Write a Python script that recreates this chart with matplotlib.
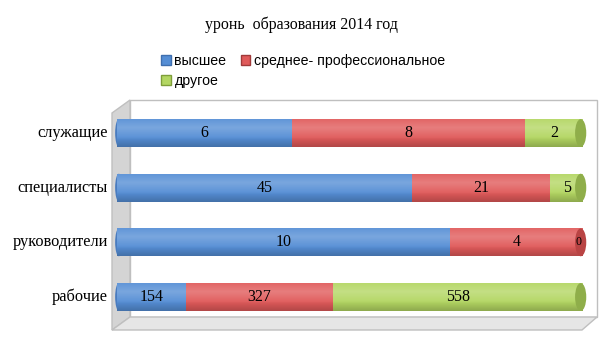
import numpy as np
import matplotlib.pyplot as plt
from matplotlib.patches import Polygon, Ellipse, Patch

categories = ["рабочие", "руководители", "специалисты", "служащие"]
series = ["высшее", "среднее- профессиональное", "другое"]
higher = [154, 10, 45, 6]
secondary = [327, 4, 21, 8]
other = [558, 0, 5, 2]
colors = ["#558ED5", "#E05A5A", "#B3D662"]
cap_colors = ["#3F6FAE", "#B94444", "#8FAE4A"]

W, H = 605, 340
fig = plt.figure(figsize=(W / 100, H / 100), dpi=100)

# pixel overlay for the 3D box
bg = fig.add_axes([0, 0, 1, 1], zorder=0)
bg.set_xlim(0, W)
bg.set_ylim(H, 0)
bg.axis("off")
edge = "#BFBFBF"
bg.add_patch(Polygon([(130, 100), (597, 100), (597, 317), (130, 317)],
                     closed=True, facecolor="white", edgecolor=edge, lw=1))
bg.add_patch(Polygon([(112, 113), (130, 100), (130, 317), (112, 330)],
                     closed=True, facecolor="#D4D4D4", edgecolor=edge, lw=1))
bg.add_patch(Polygon([(112, 330), (130, 317), (597, 317), (582, 330)],
                     closed=True, facecolor="#E6E6E6", edgecolor=edge, lw=1))

ax = fig.add_axes([117 / W, 10 / H, 466 / W, 230 / H], zorder=1)
ax.patch.set_alpha(0)
ax.set_xlim(0, 1)
ax.set_ylim(-0.604, 3.604)
ax.axis("off")

data = np.array([higher, secondary, other], dtype=float)
totals = data.sum(axis=0)
frac = data / totals
y = np.arange(len(categories))
h = 0.51

left = np.zeros(len(categories))
for i, name in enumerate(series):
    ax.barh(y, frac[i], left=left, height=h, color=colors[i], edgecolor="none", zorder=2)
    for j in range(len(categories)):
        cx = left[j] + frac[i][j] / 2
        if data[i][j] > 0:
            ax.text(cx, y[j], f"{int(data[i][j])}", ha="center", va="center",
                    fontsize=11.5, family="Liberation Serif", zorder=5)
        else:
            ax.text(cx - 0.01, y[j], "0", ha="center", va="center",
                    fontsize=8.5, family="Liberation Serif", zorder=5)
    left += frac[i]

# cylinder shading
t = np.linspace(0, 1, 50)
shade = np.zeros((50, 2, 4))
light = np.clip(1 - np.abs(t - 0.7) * 2.2, 0, 1)
shade[:, :, :3] = 1.0
shade[:, :, 3] = (light * 0.22)[:, None]
dark = np.zeros((50, 2, 4))
dark[:, :, 3] = (np.clip(0.35 - t, 0, 1) * 0.6)[:, None]
for j in range(len(categories)):
    ax.imshow(shade, extent=(0, 1, y[j] - h / 2, y[j] + h / 2), origin="lower",
              aspect="auto", zorder=3, interpolation="bilinear")
    ax.imshow(dark, extent=(0, 1, y[j] - h / 2, y[j] + h / 2), origin="lower",
              aspect="auto", zorder=3, interpolation="bilinear")
    last = max(k for k in range(3) if data[k][j] > 0)
    ax.add_patch(Ellipse((0.995, y[j]), 0.024, h, facecolor=cap_colors[last],
                         edgecolor="none", zorder=4, clip_on=False))
    ax.add_patch(Ellipse((0.004, y[j]), 0.016, h, facecolor="#4A7CBF",
                         edgecolor="none", zorder=1.5, clip_on=False))

for j, c in enumerate(categories):
    ax.text(-0.02, y[j], c, ha="right", va="center", fontsize=11.8,
            family="Liberation Serif")

fig.text(301 / W, 1 - 25 / H, "уронь  образования 2014 год", ha="center", va="center",
         fontsize=11.4, family="Liberation Serif")

handles = [Patch(facecolor=colors[0], edgecolor="#3F6FAE"),
           Patch(facecolor=colors[2], edgecolor="#7F9E3A"),
           Patch(facecolor=colors[1], edgecolor="#A03A3A")]
labels = [series[0], series[2], series[1]]
fig.legend(handles, labels, ncol=2, loc="upper left", bbox_to_anchor=(151 / W, 1 - 44 / H),
           frameon=False, prop={"family": "Liberation Sans", "size": 10.2},
           handlelength=0.7, handleheight=0.7, handletextpad=0.25, columnspacing=1.0,
           labelspacing=0.45, borderpad=0.2)

fig.savefig("out.png", dpi=100)
